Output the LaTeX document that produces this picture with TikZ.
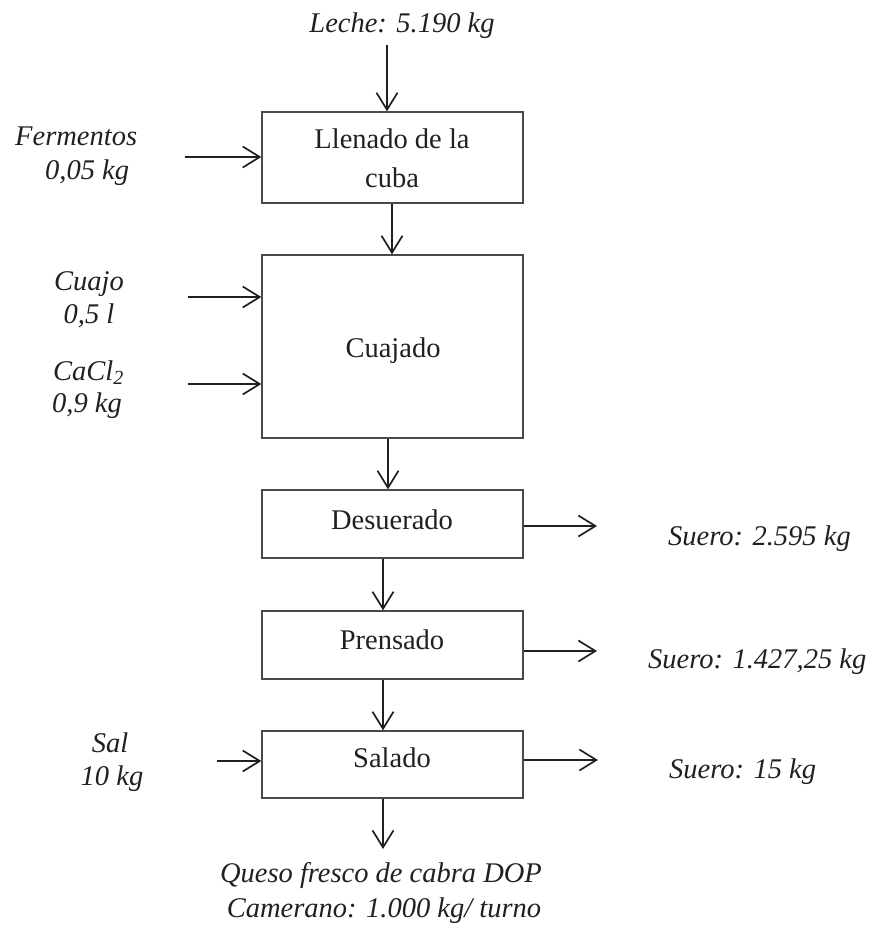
\documentclass[tikz,border=0pt]{standalone}
\usepackage{fontspec}
\setmainfont{Liberation Serif}
\usetikzlibrary{arrows.meta}
\definecolor{ink}{HTML}{231F20}
\definecolor{frame}{HTML}{4A4A4A}
\begin{document}
\begin{tikzpicture}[x=1pt,y=-1pt,
  box/.style={draw=frame,line width=1.3pt,inner sep=0pt,rectangle,minimum width=261pt},
  flow/.style={draw=ink,line width=1.7pt,-{Straight Barb[length=17pt,width=21pt]}},
  txt/.style={text=ink,inner sep=0pt,font=\fontsize{28.5}{34}\selectfont},
  lbl/.style={text=ink,inner sep=0pt,font=\fontsize{28.5}{34}\selectfont\itshape},
]
\useasboundingbox (0,0) rectangle (874,935);

% process boxes
\node[box,minimum height=91pt]  (llenado)   at (392.5,157.5) {};
\node[box,minimum height=183pt] (cuajado)   at (392.5,346.5) {};
\node[box,minimum height=68pt]  (desuerado) at (392.5,524)   {};
\node[box,minimum height=68pt]  (prensado)  at (392.5,645)   {};
\node[box,minimum height=67pt]  (salado)    at (392.5,764.5) {};

% box captions
\node[txt,anchor=base] (t-llenado1) at (392,148) {Llenado de la};
\node[txt,anchor=base] (t-llenado2) at (392,187) {cuba};
\node[txt,anchor=base] (t-cuajado)  at (393,357) {Cuajado};
\node[txt,anchor=base] (t-desuer)   at (392,529) {Desuerado};
\node[txt,anchor=base] (t-prensa)   at (392,649) {Prensado};
\node[txt,anchor=base] (t-salado)   at (392,767) {Salado};

% stream labels
\node[lbl,anchor=base] (l-leche) at (402,32) {Leche: 5.190 kg};
\node[lbl,anchor=base west] (l-ferm1) at (15,145) {Fermentos};
\node[lbl,anchor=base west] (l-ferm2) at (45,179) {0,05 kg};
\node[lbl,anchor=base] (l-cuajo1) at (89,290) {Cuajo};
\node[lbl,anchor=base] (l-cuajo2) at (89,323) {0,5 l};
\node[lbl,anchor=base west] (l-cacl1) at (53,380) {CaCl\textsubscript{2}};
\node[lbl,anchor=base west] (l-cacl2) at (52,412) {0,9 kg};
\node[lbl,anchor=base] (l-sal1) at (110,752) {Sal};
\node[lbl,anchor=base] (l-sal2) at (112,785) {10 kg};
\node[lbl,anchor=base west] (l-suero1) at (668,545) {Suero: 2.595 kg};
\node[lbl,anchor=base west] (l-suero2) at (648,668) {Suero: 1.427,25 kg};
\node[lbl,anchor=base west] (l-suero3) at (669,778) {Suero: 15 kg};
\node[lbl,anchor=base] (l-queso1) at (381,882) {Queso fresco de cabra DOP};
\node[lbl,anchor=base] (l-queso2) at (384,917) {Camerano: 1.000 kg/ turno};

% free ends of the streams
\coordinate (leche-in) at (387,45);
\coordinate (ferm-in)  at (185,157);
\coordinate (cuajo-in) at (188,297);
\coordinate (cacl-in)  at (188,384);
\coordinate (sal-in)   at (217,761);
\coordinate (suero1-out) at (597,526);
\coordinate (suero2-out) at (597,651);
\coordinate (suero3-out) at (598,760);
\coordinate (queso-out)  at (383,849);

% main line
\draw[flow] (leche-in) -- (leche-in |- llenado.north);
\draw[flow] ([xshift=-0.5pt]llenado.south) -- ([xshift=-0.5pt]cuajado.north);
\draw[flow] ([xshift=-4.5pt]cuajado.south) -- ([xshift=-4.5pt]desuerado.north);
\draw[flow] ([xshift=-9.5pt]desuerado.south) -- ([xshift=-9.5pt]prensado.north);
\draw[flow] ([xshift=-9.5pt]prensado.south) -- ([xshift=-9.5pt]salado.north);
\draw[flow] ([xshift=-9.5pt]salado.south) -- (queso-out);

% inputs
\draw[flow] (ferm-in)  -- (ferm-in -| llenado.west);
\draw[flow] (cuajo-in) -- (cuajo-in -| cuajado.west);
\draw[flow] (cacl-in)  -- (cacl-in -| cuajado.west);
\draw[flow] (sal-in)   -- (sal-in -| salado.west);

% outputs
\draw[flow] (suero1-out -| desuerado.east) -- (suero1-out);
\draw[flow] (suero2-out -| prensado.east)  -- (suero2-out);
\draw[flow] (suero3-out -| salado.east)    -- (suero3-out);
\end{tikzpicture}
\end{document}
